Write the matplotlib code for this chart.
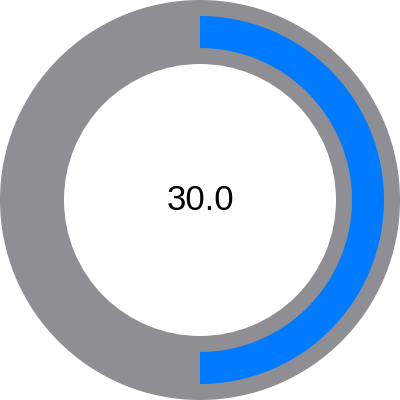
import matplotlib
matplotlib.use("agg")
import matplotlib.pyplot as plt
from matplotlib.patches import Wedge

# gauge data
value = 30.0
max_value = 60.0

track_color = "#8E8E93"
bar_color = "#007AFF"

fig = plt.figure(figsize=(4, 4), dpi=100)
ax = fig.add_axes([0, 0, 1, 1])
ax.set_xlim(-200, 200)
ax.set_ylim(-200, 200)
ax.set_aspect("equal")
ax.axis("off")

# background track (full ring)
ax.add_patch(Wedge((0, 0), 200, 0, 360, width=200 - 136, color=track_color, lw=0))

# value arc, clockwise from 12 o'clock
sweep = 360 * value / max_value
ax.add_patch(Wedge((0, 0), 184, 90 - sweep, 90, width=184 - 152, color=bar_color, lw=0))

ax.text(0, 0, f"{value:.1f}", ha="center", va="center", fontsize=25,
        family=["Liberation Sans", "DejaVu Sans"], color="black")

fig.savefig("out.png", dpi=100)
